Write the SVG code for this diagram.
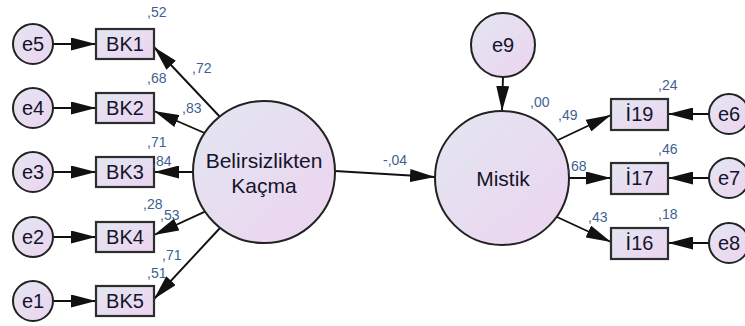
<svg xmlns="http://www.w3.org/2000/svg" width="745" height="326" viewBox="0 0 745 326">
  <defs>
    <linearGradient id="fillGrad" x1="0" y1="0" x2="1" y2="1">
      <stop offset="0" stop-color="#e2e7f1"/>
      <stop offset="1" stop-color="#edd3f0"/>
    </linearGradient>
    <marker id="arrow" viewBox="0 0 25 13" refX="25" refY="6.5" markerWidth="25" markerHeight="13" markerUnits="userSpaceOnUse" orient="auto">
      <path d="M0,0 L25,6.5 L0,13 Z" fill="#111"/>
    </marker>
    <style>
      .node { fill: url(#fillGrad); stroke: #222; stroke-width: 2; }
      .box { fill: url(#fillGrad); stroke: #2e2e2e; stroke-width: 2.2; }
      .lbl { font-family: "Liberation Sans", Arial, sans-serif; font-size: 20px; fill: #14142a; text-anchor: middle; }
      .big { font-size: 21px; }
      .num { font-family: "Liberation Sans", Arial, sans-serif; font-size: 14px; fill: #3f5f91; }
      .edge { stroke: #111; stroke-width: 1.9; fill: none; marker-end: url(#arrow); }
    </style>
  </defs>

  <!-- connectors -->
  <g id="connectors">
    <!-- error terms to left indicators -->
    <line class="edge" x1="53" y1="44" x2="96" y2="44"/>
    <line class="edge" x1="53" y1="108" x2="96" y2="108"/>
    <line class="edge" x1="53" y1="172" x2="96" y2="172"/>
    <line class="edge" x1="53" y1="237" x2="96" y2="237"/>
    <line class="edge" x1="53" y1="301" x2="96" y2="301"/>
    <!-- latent factor to its indicators -->
    <line class="edge" x1="219.6" y1="116.5" x2="154" y2="47"/>
    <line class="edge" x1="204.6" y1="133" x2="154" y2="111"/>
    <line class="edge" x1="193" y1="172" x2="154" y2="172"/>
    <line class="edge" x1="205" y1="211.6" x2="154" y2="235"/>
    <line class="edge" x1="220" y1="228" x2="154" y2="299"/>
    <!-- structural path -->
    <line class="edge" x1="335" y1="171" x2="435" y2="177"/>
    <!-- disturbance -->
    <line class="edge" x1="503" y1="77" x2="502" y2="111"/>
    <!-- Mistik to its indicators -->
    <line class="edge" x1="558" y1="140" x2="611" y2="115"/>
    <line class="edge" x1="569" y1="178" x2="611" y2="178"/>
    <line class="edge" x1="557" y1="217" x2="611" y2="242"/>
    <!-- error terms to right indicators -->
    <line class="edge" x1="709" y1="114" x2="668" y2="114"/>
    <line class="edge" x1="709" y1="178" x2="668" y2="178"/>
    <line class="edge" x1="709" y1="243" x2="668" y2="243"/>
  </g>

  <!-- left error terms -->
  <g id="e5"><circle class="node" cx="33" cy="44" r="20"/><text class="lbl" x="33" y="51">e5</text></g>
  <g id="e4"><circle class="node" cx="33" cy="108" r="20"/><text class="lbl" x="33" y="115">e4</text></g>
  <g id="e3"><circle class="node" cx="33" cy="172" r="20"/><text class="lbl" x="33" y="179">e3</text></g>
  <g id="e2"><circle class="node" cx="33" cy="237" r="20"/><text class="lbl" x="33" y="244">e2</text></g>
  <g id="e1"><circle class="node" cx="33" cy="301" r="20"/><text class="lbl" x="33" y="308">e1</text></g>

  <!-- left indicators -->
  <g id="BK1"><rect class="box" x="96" y="29" width="58" height="30"/><text class="lbl" x="125" y="51">BK1</text></g>
  <g id="BK2"><rect class="box" x="96" y="93" width="58" height="30"/><text class="lbl" x="125" y="115">BK2</text></g>
  <g id="BK3"><rect class="box" x="96" y="157" width="58" height="30"/><text class="lbl" x="125" y="179">BK3</text></g>
  <g id="BK4"><rect class="box" x="96" y="222" width="58" height="30"/><text class="lbl" x="125" y="244">BK4</text></g>
  <g id="BK5"><rect class="box" x="96" y="286" width="58" height="30"/><text class="lbl" x="125" y="308">BK5</text></g>

  <!-- latent factors -->
  <g id="Belirsizlikten">
    <circle class="node" cx="264" cy="172" r="71"/>
    <text class="lbl big" x="264" y="168">Belirsizlikten</text>
    <text class="lbl big" x="264" y="193">Kaçma</text>
  </g>
  <g id="Mistik">
    <circle class="node" cx="502" cy="178" r="67"/>
    <text class="lbl big" x="503" y="186">Mistik</text>
  </g>
  <g id="e9"><circle class="node" cx="503" cy="45" r="32"/><text class="lbl" x="503" y="52">e9</text></g>

  <!-- right indicators -->
  <g id="I19"><rect class="box" x="611" y="99" width="57" height="31"/><text class="lbl" x="639.5" y="121">İ19</text></g>
  <g id="I17"><rect class="box" x="611" y="163" width="57" height="31"/><text class="lbl" x="639.5" y="185">İ17</text></g>
  <g id="I16"><rect class="box" x="611" y="228" width="57" height="31"/><text class="lbl" x="639.5" y="250">İ16</text></g>

  <!-- right error terms -->
  <g id="e6"><circle class="node" cx="729" cy="114" r="20"/><text class="lbl" x="729" y="121">e6</text></g>
  <g id="e7"><circle class="node" cx="729" cy="178" r="20"/><text class="lbl" x="729" y="185">e7</text></g>
  <g id="e8"><circle class="node" cx="729" cy="243" r="20"/><text class="lbl" x="729" y="250">e8</text></g>

  <!-- estimates -->
  <g id="estimates">
    <text class="num" x="147" y="17">,52</text>
    <text class="num" x="192" y="73">,72</text>
    <text class="num" x="147" y="83">,68</text>
    <text class="num" x="182" y="113">,83</text>
    <text class="num" x="147" y="147">,71</text>
    <text class="num" x="152" y="166">,84</text>
    <text class="num" x="143" y="209">,28</text>
    <text class="num" x="160" y="220">,53</text>
    <text class="num" x="162" y="260">,71</text>
    <text class="num" x="147" y="278">,51</text>
    <text class="num" x="383" y="165">-,04</text>
    <text class="num" x="530" y="107">,00</text>
    <text class="num" x="558" y="120">,49</text>
    <text class="num" x="567" y="171">,68</text>
    <text class="num" x="588" y="222">,43</text>
    <text class="num" x="658" y="90">,24</text>
    <text class="num" x="658" y="154">,46</text>
    <text class="num" x="658" y="219">,18</text>
  </g>
</svg>
